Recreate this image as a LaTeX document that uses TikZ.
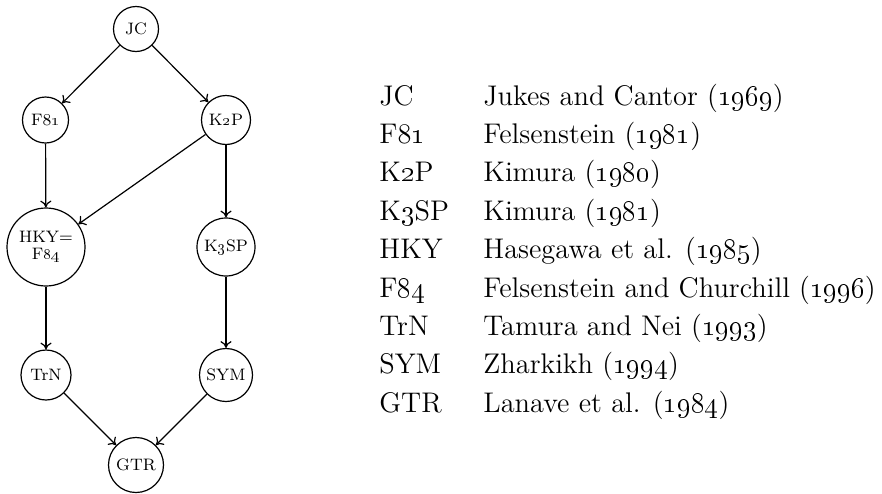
\documentclass[tikz,border=0pt]{standalone}
\usetikzlibrary{arrows.meta}
\begin{document}
\begin{tikzpicture}[x=0.5pt,y=-0.5pt,
  model/.style={draw,circle,line width=0.6pt,inner sep=0pt,align=center,font=\fontsize{8.3}{8.8}\selectfont},
  link/.style={line width=0.6pt,-{Computer Modern Rightarrow[length=3.4pt,width=5.6pt]}},
  abbr/.style={anchor=base west,inner sep=0pt,font=\fontsize{14.2}{16}\selectfont},
  ref/.style={anchor=base west,inner sep=0pt,font=\fontsize{14.2}{16}\selectfont}]
\useasboundingbox (0,0) rectangle (882,493);
\node[model,minimum size=22.5pt] (jc) at (136,29) {JC};
\node[model,minimum size=23pt] (f81) at (45.5,120) {F8\oldstylenums{1}};
\node[model,minimum size=24.5pt] (k2p) at (226,120) {K\oldstylenums{2}P};
\node[model,minimum size=39pt] (hky) at (46,247) {HKY=\\F\oldstylenums{84}};
\node[model,minimum size=29pt] (k3sp) at (226,247) {K\oldstylenums{3}SP};
\node[model,minimum size=25pt] (trn) at (46,375) {TrN};
\node[model,minimum size=26.5pt] (sym) at (226,375) {SYM};
\node[model,minimum size=27.5pt] (gtr) at (136,465) {GTR};
\draw[link] (jc) -- (f81);
\draw[link] (jc) -- (k2p);
\draw[link] (f81) -- (hky);
\draw[link] (k2p) -- (hky);
\draw[link] (k2p) -- (k3sp);
\draw[link] (hky) -- (trn);
\draw[link] (k3sp) -- (sym);
\draw[link] (trn) -- (gtr);
\draw[link] (sym) -- (gtr);
\node[abbr] (a1) at (379,105) {JC};
\node[abbr] (a2) at (379,143.4) {F8\oldstylenums{1}};
\node[abbr] (a3) at (379,181.8) {K\oldstylenums{2}P};
\node[abbr] (a4) at (379,220.2) {K\oldstylenums{3}SP};
\node[abbr] (a5) at (379,258.6) {HKY};
\node[abbr] (a6) at (379,297) {F\oldstylenums{84}};
\node[abbr] (a7) at (379,335.4) {TrN};
\node[abbr] (a8) at (379,373.8) {SYM};
\node[abbr] (a9) at (379,412.2) {GTR};
\node[ref] (r1) at (483,105) {Jukes and Cantor (\oldstylenums{1969})};
\node[ref] (r2) at (483,143.4) {Felsenstein (\oldstylenums{1981})};
\node[ref] (r3) at (483,181.8) {Kimura (\oldstylenums{1980})};
\node[ref] (r4) at (483,220.2) {Kimura (\oldstylenums{1981})};
\node[ref] (r5) at (483,258.6) {Hasegawa et al. (\oldstylenums{1985})};
\node[ref] (r6) at (483,297) {Felsenstein and Churchill (\oldstylenums{1996})};
\node[ref] (r7) at (483,335.4) {Tamura and Nei (\oldstylenums{1993})};
\node[ref] (r8) at (483,373.8) {Zharkikh (\oldstylenums{1994})};
\node[ref] (r9) at (483,412.2) {Lanave et al. (\oldstylenums{1984})};
\end{tikzpicture}
\end{document}
